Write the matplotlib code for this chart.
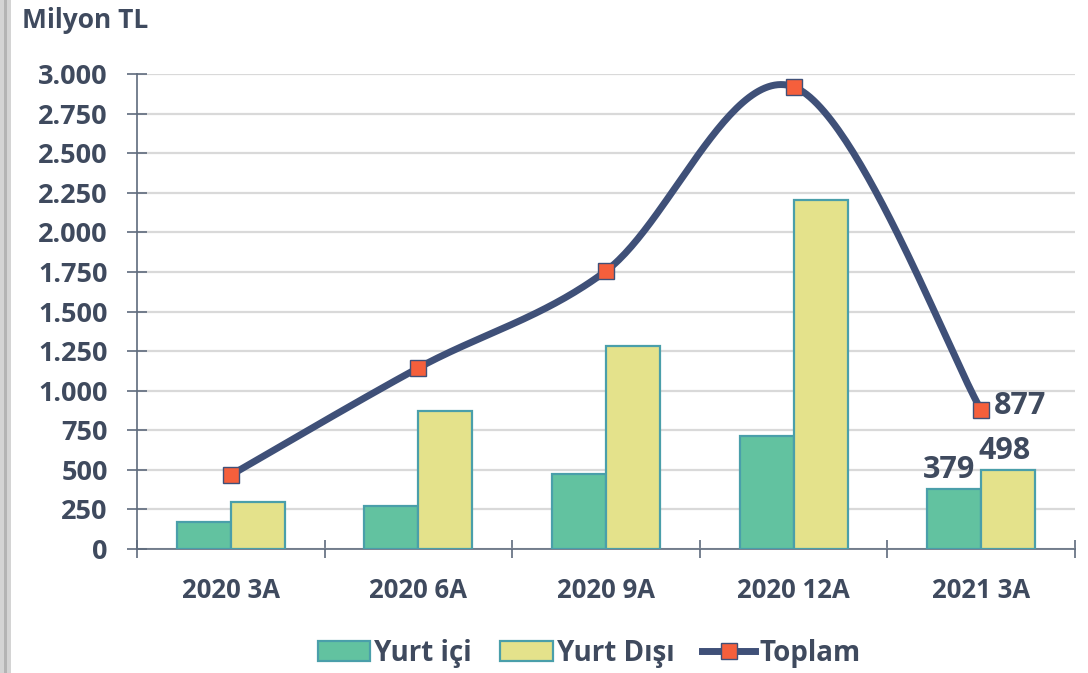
import numpy as np
import matplotlib
matplotlib.use("Agg")
import matplotlib.pyplot as plt
from matplotlib.patches import Rectangle
from matplotlib.lines import Line2D
from matplotlib.patches import Patch

categories = ["2020 3A", "2020 6A", "2020 9A", "2020 12A", "2021 3A"]
yurt_ici = [170, 272, 474, 714, 379]
yurt_disi = [297, 872, 1282, 2205, 498]
toplam = [467, 1144, 1756, 2919, 877]
yticks = [0, 250, 500, 750, 1000, 1250, 1500, 1750, 2000, 2250, 2500, 2750, 3000]
ytick_labels = ["0", "250", "500", "750", "1.000", "1.250", "1.500", "1.750",
                "2.000", "2.250", "2.500", "2.750", "3.000"]

TXT = "#3f4a5e"
AX = "#5f6b7d"
GREEN = "#62c2a0"
YELLOW = "#e4e28b"
EDGE = "#4a9faa"
LINE = "#3f5078"
MARK = "#f55f3c"

plt.rcParams['font.family'] = ['Open Sans', 'DejaVu Sans']
plt.rcParams['font.weight'] = 'bold'

fig = plt.figure(figsize=(10.88, 6.73), dpi=100)
ax = fig.add_axes([137/1088, 1-549/673, (1075-137)/1088, (549-74)/673])

x = np.arange(len(categories))
w = 0.288
ax.bar(x - w/2, yurt_ici, w, color=GREEN, edgecolor=EDGE, linewidth=1.6, zorder=3)
ax.bar(x + w/2, yurt_disi, w, color=YELLOW, edgecolor=EDGE, linewidth=1.6, zorder=3)

# Excel-like smoothed line (Bezier rendering through the data points)
px = x.astype(float)
py = np.array(toplam, dtype=float)
P = np.column_stack([px, py])
Pe = np.vstack([P[0], P, P[-1]])
curve = []
t = np.linspace(0, 1, 60)
for i in range(len(P) - 1):
    p0, p1, p2, p3 = Pe[i], Pe[i+1], Pe[i+2], Pe[i+3]
    c1 = p1 + (p2 - p0) / 6
    c2 = p2 - (p3 - p1) / 6
    seg = ((1-t)**3)[:, None]*p1 + (3*(1-t)**2*t)[:, None]*c1 + (3*(1-t)*t**2)[:, None]*c2 + (t**3)[:, None]*p2
    curve.append(seg)
curve = np.vstack(curve)
ax.plot(curve[:, 0], curve[:, 1], color=LINE, linewidth=5, solid_capstyle='round', zorder=4)
ax.plot(px, py, linestyle='none', marker='s', markersize=11, markerfacecolor=MARK,
        markeredgecolor=LINE, markeredgewidth=1.0, zorder=5)

ax.set_xlim(-0.5, len(categories) - 0.5)
ax.set_ylim(0, 3000)
ax.set_yticks(yticks)
ax.set_yticklabels(ytick_labels)
ax.set_xticks(np.arange(len(categories) + 1) - 0.5)
ax.set_xticklabels([])
ax.set_xticks(x, minor=True)
ax.set_xticklabels(categories, minor=True)
ax.tick_params(axis='x', which='minor', length=0, pad=20, labelsize=18.5, labelcolor=TXT)
ax.tick_params(axis='x', which='major', direction='inout', length=13, width=1.2, color=AX)
ax.tick_params(axis='y', direction='inout', length=14, width=1.2, color=AX, pad=14,
               labelsize=19.5, labelcolor=TXT)
for lab in ax.get_yticklabels() + ax.get_xticklabels(minor=True):
    lab.set_fontweight('bold')

ax.grid(axis='y', color='#d9d9d9', linewidth=1.6, zorder=0)
ax.set_axisbelow(True)
for s in ['top', 'right']:
    ax.spines[s].set_visible(False)
ax.spines['left'].set_color(AX)
ax.spines['bottom'].set_color(AX)
ax.spines['left'].set_linewidth(1.2)
ax.spines['bottom'].set_linewidth(1.2)

# data labels for the last period
last = len(categories) - 1
ax.text(last - w/2 - 0.03, yurt_ici[last] + 25, f"{yurt_ici[last]}", ha='center', va='bottom',
        fontsize=22, fontweight='bold', color=TXT)
ax.text(last + w/2 - 0.02, yurt_disi[last] + 25, f"{yurt_disi[last]}", ha='center', va='bottom',
        fontsize=22, fontweight='bold', color=TXT)
ax.text(last + 0.07, toplam[last] + 25, f"{toplam[last]}", ha='left', va='center',
        fontsize=22, fontweight='bold', color=TXT)

fig.text(22/1088, 1-20/673, "Milyon TL", ha='left', va='center', fontsize=19,
         fontweight='bold', color=TXT)

handles = [Patch(facecolor=GREEN, edgecolor=EDGE, linewidth=1.6),
           Patch(facecolor=YELLOW, edgecolor=EDGE, linewidth=1.6),
           Line2D([], [], color=LINE, linewidth=5, marker='s', markersize=11,
                  markerfacecolor=MARK, markeredgecolor=LINE)]
leg = fig.legend(handles, ["Yurt içi", "Yurt Dışı", "Toplam"], loc='center',
                 bbox_to_anchor=(589/1088, 1-653/673), ncol=3, frameon=False,
                 prop={'size': 20, 'weight': 'bold'}, handlelength=1.9, handleheight=0.75,
                 handletextpad=0.15, columnspacing=1.0)
for t_ in leg.get_texts():
    t_.set_color(TXT)

# left gray border
fig.patches.append(Rectangle((0, 0), 11/1088, 1, transform=fig.transFigure,
                             facecolor='#d4d4d4', edgecolor='none', zorder=0))
fig.patches.append(Rectangle((4/1088, 0), 3/1088, 1, transform=fig.transFigure,
                             facecolor='#b4b4b4', edgecolor='none', zorder=0))

fig.savefig("out.png", dpi=100)
